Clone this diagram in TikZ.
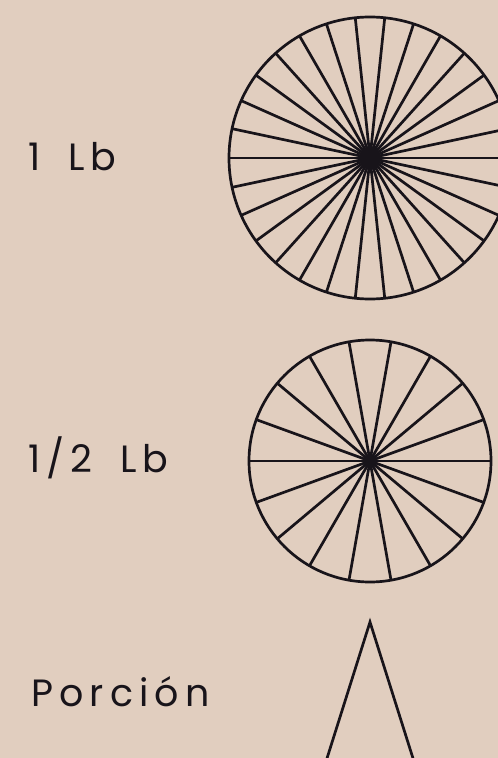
\documentclass[tikz,border=0pt]{standalone}
\usepackage{fontspec}
\setmainfont{Poppins}[LetterSpace=16, WordSpace=1.7]
\usetikzlibrary{positioning}
\definecolor{Crema}{RGB}{225,206,191}
\definecolor{Tinta}{RGB}{24,20,26}

\begin{document}
\begin{tikzpicture}[x=1pt, y=-1pt, line width=2.7pt, draw=Tinta,
	etiqueta/.style={font=\fontsize{38}{40}\selectfont, text=Tinta, anchor=base west, inner sep=0pt}]
	\fill[Crema] (0,0) rectangle (498,758);
	\useasboundingbox (0,0) rectangle (498,758);
	\clip (0,0) rectangle (498,758);
	% libra entera: 15 cortes
	\coordinate (libra) at (370,158);
	\draw (libra) circle[radius=141];
	\foreach \a in {0,12,...,168}
		{\draw (libra) ++(\a:141) -- ++(\a+180:282);}
	\fill[Tinta] (libra) circle[radius=8];
	% media libra: 9 cortes
	\coordinate (media) at (370,461);
	\draw (media) circle[radius=121];
	\foreach \a in {0,20,...,160}
		{\draw (media) ++(\a:121) -- ++(\a+180:242);}
	\fill[Tinta] (media) circle[radius=5];
	% porcion
	\coordinate (punta) at (370,622);
	\draw (317,790) -- (punta) -- (423,790);
	\node[etiqueta] (unalibra) at (27,170) {1 Lb};
	\node[etiqueta] (medialibra) at (27,472) {1/2 Lb};
	\node[etiqueta] (porcion) at (30,706) {Porción};
\end{tikzpicture}
\end{document}
